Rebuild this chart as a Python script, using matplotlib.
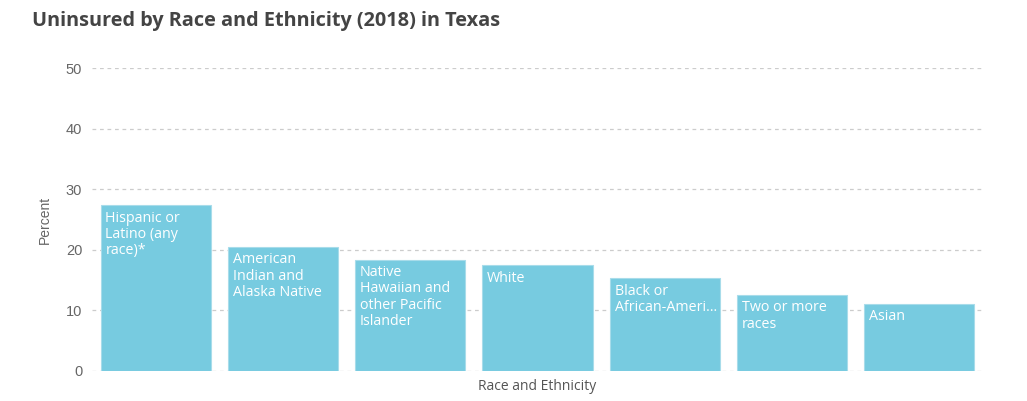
import matplotlib
matplotlib.use("Agg")
import matplotlib.pyplot as plt

plt.rcParams['font.family'] = ['Open Sans', 'DejaVu Sans']

groups = ["Hispanic or\nLatino (any\nrace)*",
          "American\nIndian and\nAlaska Native",
          "Native\nHawaiian and\nother Pacific\nIslander",
          "White",
          "Black or\nAfrican-Ameri\u2026",
          "Two or more\nraces",
          "Asian"]
uninsured = [27.4, 20.5, 18.4, 17.5, 15.3, 12.6, 11.1]
yticks = [0, 10, 20, 30, 40, 50]

fig = plt.figure(figsize=(10.27, 4.01), dpi=100)
ax = fig.add_axes([0.0896, 0.075, 0.8675, 0.755])

x = list(range(len(groups)))
width = 0.865
ax.bar(x, uninsured, width=width, color="#77cbe0", edgecolor="#a8dcea",
       linewidth=0.8, zorder=2)

# labels inside bars, top-left corner
for i, (lab, v) in enumerate(zip(groups, uninsured)):
    ax.annotate(lab, xy=(i - width / 2, v), xytext=(3.5, -4),
                textcoords="offset points", ha="left", va="top",
                color="white", fontsize=10.3, linespacing=1.12, zorder=3)

ax.set_xlim(-0.5, len(groups) - 0.5)
ax.set_ylim(0, 50)
ax.set_yticks(yticks)
ax.set_xticks([])
ax.grid(axis="y", color="#cccccc", linestyle=(0, (3, 3)), linewidth=0.9, zorder=0)
ax.set_axisbelow(True)
for s in ax.spines.values():
    s.set_visible(False)
ax.tick_params(axis="y", length=0, pad=7, labelsize=10.5, labelcolor="#666666")
for t in ax.get_yticklabels():
    t.set_fontfamily("Liberation Sans")

ax.set_ylabel("Percent", fontsize=10, color="#666666", labelpad=10,
              fontfamily="Liberation Sans")
ax.set_xlabel("Race and Ethnicity", fontsize=10, color="#555555", labelpad=6)

fig.text(0.031, 0.935, "Uninsured by Race and Ethnicity (2018) in Texas",
         fontsize=14.3, fontweight="bold", color="#444444", ha="left", va="baseline")

fig.savefig("out.png", dpi=100, facecolor="white")
